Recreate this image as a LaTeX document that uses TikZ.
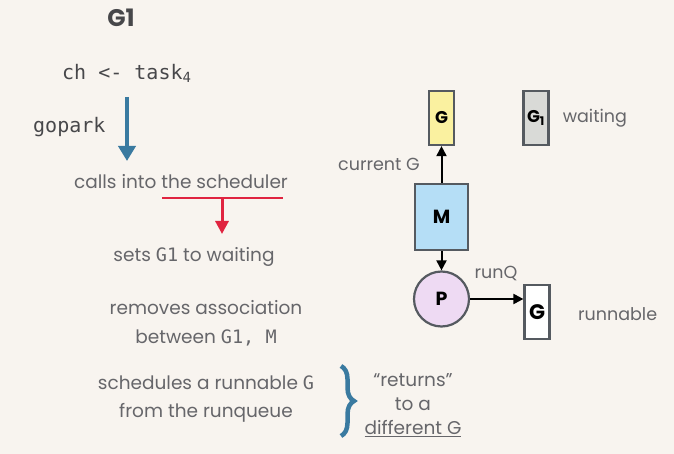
\documentclass[tikz,border=0pt]{standalone}
\usepackage{fontspec}
\setmainfont{Poppins}
\setmonofont{DejaVu Sans Mono}
\usetikzlibrary{positioning,arrows.meta,decorations.pathreplacing}
\definecolor{paper}{HTML}{F8F4EF}
\definecolor{ink}{HTML}{66666A}
\definecolor{edge}{HTML}{555A60}
\definecolor{gyellow}{HTML}{FAF1A0}
\definecolor{ggray}{HTML}{D9DAD7}
\definecolor{mblue}{HTML}{B5DEF6}
\definecolor{plilac}{HTML}{EEDAF3}
\definecolor{flowblue}{HTML}{3A7AA0}
\definecolor{flowred}{HTML}{E02440}
\tikzset{
  txt/.style={text=ink, font=\fontsize{18.5}{20}\selectfont, align=center, inner sep=0pt},
  lbl/.style={text=ink, font=\fontsize{17.5}{20}\selectfont, inner sep=0pt},
  code/.style={text=ink!70!black, font=\ttfamily\fontsize{20}{20}\selectfont, inner sep=0pt},
  gbox/.style={draw=edge, line width=2.2pt, minimum width=25pt, minimum height=54pt, inner sep=0pt, font=\bfseries\fontsize{17}{18}\selectfont},
  mbox/.style={draw=edge, line width=2.2pt, fill=mblue, minimum width=53pt, minimum height=66pt, inner sep=0pt, font=\bfseries\fontsize{19}{20}\selectfont},
  pcirc/.style={circle, draw=edge, line width=2.2pt, fill=plilac, minimum size=55pt, inner sep=0pt, font=\bfseries\fontsize{19}{20}\selectfont},
  conn/.style={black, line width=2pt, -{Triangle[length=10pt,width=10pt]}}
}
\begin{document}
\begin{tikzpicture}[x=1pt, y=-1pt]
\useasboundingbox[fill=paper] (0,0) rectangle (674,454);
% left: what G1 does
\node[text=ink!70!black, font=\bfseries\fontsize{24}{26}\selectfont] (title) at (121,18) {G1};
\node[code, anchor=west] (send) at (62,73) {ch <- task\textsubscript{4}};
\node[code, anchor=west] (gopark) at (33,127) {gopark};
\coordinate (bluetop) at (127,97);
\coordinate (bluetip) at (127,161);
\draw[flowblue, line width=4pt, -{Triangle[length=15pt,width=17pt]}] (bluetop) -- (bluetip);
\node[txt] (calls) at (181,182) {calls into the scheduler};
\coordinate (redL) at (162,198);
\coordinate (redR) at (283,198);
\coordinate (redmid) at (222,198);
\coordinate (redtip) at (222,234);
\draw[flowred, line width=2.5pt] (redL) -- (redR);
\draw[flowred, line width=3pt, -{Triangle[length=13pt,width=13pt]}] (redmid) -- (redtip);
\node[txt] (sets) at (194,257) {sets \texttt{G1} to waiting};
\node[txt, font=\fontsize{18.5}{29}\selectfont] (removes) at (206,323) {removes association\\between \texttt{G1, M}};
\node[txt, font=\fontsize{18.5}{28}\selectfont] (sched) at (206,399) {schedules a runnable \texttt{G}\\from the runqueue};
\coordinate (bracetop) at (341,366);
\coordinate (bracebot) at (341,436);
\draw[flowblue, line width=4.5pt, decorate, decoration={brace, amplitude=13pt}] (bracetop) -- (bracebot);
\node[txt, font=\fontsize{18.5}{24}\selectfont] (returns) at (413,405) {“returns”\\to a\\\underline{different G}};
% right: G, M and P
\node[gbox, fill=gyellow] (gcur) at (441.5,118) {G};
\node[gbox, fill=ggray] (gwait) at (536,118) {G\textsubscript{1}};
\node[lbl, right=13pt of gwait] (waitlbl) {waiting};
\node[mbox] (m) at (441.5,217) {M};
\node[pcirc] (p) at (441.5,299) {P};
\node[gbox, fill=white, font=\bfseries\fontsize{21}{22}\selectfont] (grun) at (537,312) {G};
\node[lbl, anchor=east] (curlbl) at (420,164) {current G};
\node[lbl] (runq) at (496,273) {runQ};
\node[lbl, anchor=west] (runlbl) at (578,314) {runnable};
\draw[conn] (m) -- (gcur);
\draw[conn] (m) -- (p);
\draw[conn] (p.east) -- (p.east -| grun.west);
\end{tikzpicture}
\end{document}
